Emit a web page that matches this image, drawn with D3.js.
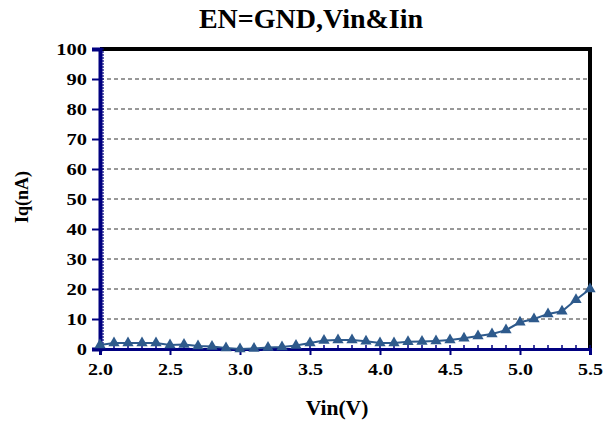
<!DOCTYPE html>
<html><head><meta charset="utf-8">
<script src="https://cdn.jsdelivr.net/npm/d3@7"></script>
<style>body{margin:0;background:#fff}svg{display:block}svg text{font-family:"Liberation Serif","Times New Roman",Tinos,serif;font-weight:bold}</style>
</head><body><svg id="c" width="611" height="428"></svg>
<script>
const vin = [2.0,2.1,2.2,2.3,2.4,2.5,2.6,2.7,2.8,2.9,3.0,3.1,3.2,3.3,3.4,3.5,3.6,3.7,3.8,3.9,4.0,4.1,4.2,4.3,4.4,4.5,4.6,4.7,4.8,4.9,5.0,5.1,5.2,5.3,5.4,5.5];
const iq  = [1.3,2.0,2.0,2.0,2.0,1.3,1.5,1.0,0.8,0.3,0.0,0.2,0.5,0.7,1.2,2.0,2.8,3.0,3.0,2.6,2.0,2.0,2.4,2.5,2.7,3.0,3.6,4.3,5.0,6.3,8.9,10.0,11.7,12.6,16.4,20.0];
const xTicks = [2.0,2.5,3.0,3.5,4.0,4.5,5.0,5.5];
const yTicks = [0,10,20,30,40,50,60,70,80,90,100];
const title = "EN=GND,Vin&Iin", xTitle = "Vin(V)", yTitle = "Iq(nA)";

const svg = d3.select("#c");
const L=100,R=590,T=49,B=349;
const x = d3.scaleLinear().domain([2.0,5.5]).range([L,R]);
const y = d3.scaleLinear().domain([0,100]).range([B,T]);
const navy="#000080", col="#2E5A8C";

svg.append("text").attr("x",311).attr("y",28).attr("text-anchor","middle").style("font-size","28px").text(title);

// grid
svg.append("g").selectAll("line").data(yTicks.filter(d=>d>0&&d<100)).join("line")
  .attr("x1",L).attr("x2",R).attr("y1",d=>y(d)).attr("y2",d=>y(d))
  .attr("stroke","#333").attr("stroke-width",1).attr("stroke-dasharray","4,3");

// frame top/right
svg.append("path").attr("d",`M${L},${T}H${R}V${B}`).attr("fill","none").attr("stroke","#000").attr("stroke-width",4);

// minor ticks y (inside)
svg.append("g").selectAll("line").data(d3.range(0,101,1)).join("line")
  .attr("x1",L).attr("x2",L+4).attr("y1",d=>y(d)).attr("y2",d=>y(d)).attr("stroke",navy).attr("stroke-width",1.2);
// minor ticks x (inside)
svg.append("g").selectAll("line").data(d3.range(0,36).map(i=>2+i*0.1)).join("line")
  .attr("x1",d=>x(d)).attr("x2",d=>x(d)).attr("y1",B).attr("y2",B-4).attr("stroke",navy).attr("stroke-width",1.5);

// axes
const ya = svg.append("g").attr("transform",`translate(${L},0)`)
  .call(d3.axisLeft(y).tickValues(yTicks).tickFormat(d3.format("d")).tickSize(8).tickPadding(5));
const xa = svg.append("g").attr("transform",`translate(0,${B})`)
  .call(d3.axisBottom(x).tickValues(xTicks).tickFormat(d3.format(".1f")).tickSize(6).tickPadding(9));
[ya,xa].forEach(a=>{
  a.attr("font-family",null).attr("font-size",null);
  a.select(".domain").attr("stroke",navy).attr("stroke-width",4);
  a.selectAll(".tick line").attr("stroke",navy).attr("stroke-width",2);
  a.selectAll("text").style("font-size","16px").attr("fill","#000");
});
ya.selectAll(".tick text").attr("x",0).attr("transform","translate(-13,0) scale(1.28,1)");
xa.selectAll(".tick text").attr("transform","scale(1.25,1)");
xa.select(".domain").attr("stroke-width",3);

// series
svg.append("path").datum(vin.map((v,i)=>[v,iq[i]]))
  .attr("d",d3.line().x(d=>x(d[0])).y(d=>y(d[1])))
  .attr("fill","none").attr("stroke",col).attr("stroke-width",2);
svg.append("g").selectAll("path").data(vin.map((v,i)=>[v,iq[i]])).join("path")
  .attr("transform",d=>`translate(${x(d[0])},${y(d[1])})`)
  .attr("d",d3.symbol(d3.symbolTriangle,55)).attr("fill",col);

svg.append("text").attr("transform","translate(337,415) scale(1.08,1)").attr("text-anchor","middle").style("font-size","20px").text(xTitle);
svg.append("text").attr("transform","translate(28,197) rotate(-90)").attr("text-anchor","middle").style("font-size","18px").text(yTitle);
</script></body></html>
